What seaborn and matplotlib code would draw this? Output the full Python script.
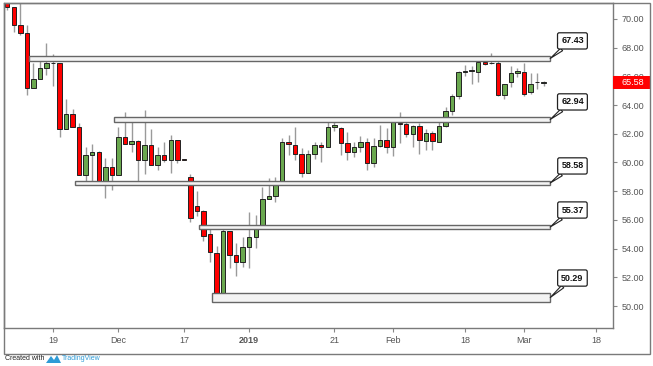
import numpy as np
import pandas as pd
import matplotlib
matplotlib.use("Agg")
import matplotlib.pyplot as plt
from matplotlib.patches import Rectangle, Polygon
import seaborn as sns

# ---------------- data ----------------
holidays = ["2018-12-25", "2019-01-01"]
all_dates = [d for d in pd.bdate_range("2018-11-08", "2019-03-22")
             if d.strftime("%Y-%m-%d") not in holidays]

opens = [71.15, 70.80, 69.60, 69.00, 65.20, 65.80, 66.60, 66.95, 66.90, 62.30,
         63.40, 62.50, 59.10, 60.50, 60.70, 58.60, 59.70, 59.10, 61.80, 61.30,
         61.50, 60.20, 61.20, 59.80, 60.50, 60.20, 61.60, 60.22, 59.00, 57.00,
         56.60, 55.00, 53.70, 50.90, 55.20, 53.55, 53.05, 54.10, 54.80, 55.60,
         57.45, 57.70, 58.60, 61.40, 61.20, 60.60, 59.30, 60.60, 61.20, 61.10,
         62.45, 62.40, 61.35, 60.75, 61.10, 61.40, 59.95, 61.15, 61.60, 61.05,
         62.75, 62.65, 61.95, 62.55, 61.50, 62.05, 61.45, 62.55, 63.60, 64.60,
         66.30, 66.40, 66.30, 67.00, 66.90, 66.90, 64.70, 65.60, 66.25, 66.30,
         64.90, 65.60, 65.55]
highs = [71.40, 70.85, 71.10, 69.60, 66.90, 67.35, 68.30, 67.55, 66.90, 64.40,
         63.70, 62.75, 61.10, 61.30, 60.80, 60.30, 60.30, 62.50, 63.50, 63.20,
         61.60, 63.65, 62.30, 61.10, 61.40, 61.90, 61.60, 60.25, 59.20, 58.00,
         56.70, 55.45, 54.20, 55.50, 55.25, 54.40, 54.80, 56.55, 56.35, 58.30,
         58.95, 59.00, 61.70, 61.90, 62.45, 61.00, 60.90, 61.45, 61.45, 62.80,
         62.95, 62.45, 62.15, 61.40, 61.85, 61.70, 61.70, 62.60, 62.40, 62.85,
         63.55, 62.90, 62.60, 62.75, 62.30, 62.20, 63.20, 63.90, 64.80, 66.35,
         66.80, 66.70, 67.30, 67.25, 67.60, 67.40, 65.50, 66.70, 66.60, 66.90,
         66.20, 66.20, 65.70]
lows = [70.60, 69.10, 68.90, 64.70, 65.20, 65.80, 66.10, 65.30, 61.80, 62.30,
        62.45, 59.10, 58.60, 58.60, 58.60, 57.50, 58.10, 59.10, 61.30, 60.70,
        58.45, 59.20, 59.80, 59.50, 60.00, 59.30, 59.95, 60.15, 55.85, 56.30,
        54.50, 53.10, 50.55, 50.35, 52.65, 52.10, 52.70, 52.65, 54.05, 55.50,
        57.45, 57.25, 58.50, 60.50, 60.20, 59.00, 59.25, 60.25, 60.05, 61.05,
        62.20, 60.50, 60.20, 60.40, 60.75, 59.50, 59.70, 61.05, 60.65, 60.45,
        61.35, 61.75, 61.05, 60.60, 60.90, 60.90, 61.40, 62.50, 63.30, 64.45,
        66.00, 65.50, 65.60, 66.80, 66.85, 64.60, 64.40, 65.25, 65.95, 64.60,
        64.80, 65.10, 65.30]
closes = [70.80, 69.60, 69.00, 65.20, 65.80, 66.60, 66.90, 66.90, 62.30, 63.40,
          62.50, 59.10, 60.50, 60.70, 58.60, 59.70, 59.10, 61.80, 61.30, 61.50,
          60.20, 61.20, 59.80, 60.50, 60.20, 61.60, 60.20, 60.20, 56.10, 56.60,
          54.90, 53.75, 50.75, 55.20, 53.55, 53.05, 54.10, 54.80, 55.60, 57.45,
          57.70, 58.65, 61.40, 61.30, 60.60, 59.30, 60.60, 61.20, 61.05, 62.45,
          62.60, 61.35, 60.75, 61.10, 61.40, 59.95, 61.15, 61.60, 61.05, 62.80,
          62.70, 61.95, 62.55, 61.55, 62.05, 61.50, 62.55, 63.60, 64.60, 66.30,
          66.40, 66.40, 67.00, 66.85, 66.90, 64.70, 65.50, 66.20, 66.35, 64.80,
          65.50, 65.60, 65.58]

level_values = [67.43, 62.94, 58.58, 55.37, 50.29]
level_tops = [67.42, 63.17, 58.71, 55.64, 50.90]
level_bottoms = [67.07, 62.82, 58.43, 55.37, 50.28]
level_starts = ["2018-11-13", "2018-11-30", "2018-11-22", "2018-12-19", "2018-12-21"]
level_end = "2019-03-07"

last_price = 65.58

tick_dates = ["2018-11-19", "2018-12-03", "2018-12-17", "2019-01-02", "2019-01-21",
              "2019-02-01", "2019-02-18", "2019-03-01", "2019-03-18"]
tick_labels = ["19", "Dec", "17", "2019", "21", "Feb", "18", "Mar", "18"]
y_ticks = [50, 52, 54, 56, 58, 60, 62, 64, 66, 68, 70]

# ---------------- style ----------------
sns.set_theme(style="white")
plt.rcParams["font.family"] = ["Liberation Sans", "DejaVu Sans"]

W, H = 653, 366
fig = plt.figure(figsize=(W / 100, H / 100), dpi=100)
ax = fig.add_axes([4 / W, 38 / H, 609 / W, 325 / H])

date_strs = [d.strftime("%Y-%m-%d") for d in all_dates]
pos = {s: i for i, s in enumerate(date_strs)}

o = np.array(opens); h = np.array(highs); l = np.array(lows); c = np.array(closes)
x = np.arange(len(o))
up = c >= o
green, red = "#6aa84f", "#ff0000"

ax.vlines(x, l, h, color="#9a9a9a", lw=1.0, zorder=1)
bottoms = np.minimum(o, c)
heights = np.maximum(np.abs(c - o), 0.02)
ax.bar(x[up], heights[up], bottom=bottoms[up], width=0.68, color=green,
       edgecolor="#222222", linewidth=0.7, zorder=2)
ax.bar(x[~up], heights[~up], bottom=bottoms[~up], width=0.68, color=red,
       edgecolor="#222222", linewidth=0.7, zorder=2)

# level boxes + callouts
end_x = pos[level_end]
for val, top, bot, start in zip(level_values, level_tops, level_bottoms, level_starts):
    sx = pos[start] + 0.3
    ax.add_patch(Rectangle((sx, bot), end_x - sx, top - bot, facecolor="#f3f3f3",
                           edgecolor="#666666", lw=1.0, zorder=3))
    ax.annotate(f"{val:.2f}", xy=(end_x, (top + bot) / 2), xytext=(86.4, top + 1.05),
                textcoords="data", ha="center", va="center", fontsize=6.5,
                fontweight="bold", color="#111111", annotation_clip=False,
                bbox=dict(boxstyle="round,pad=0.4,rounding_size=0.2", fc="white",
                          ec="#222222", lw=0.9),
                arrowprops=dict(arrowstyle="wedge,tail_width=0.35", fc="white",
                                ec="#222222", lw=0.8, shrinkA=0, shrinkB=0),
                zorder=5)

ax.set_xlim(-0.49, 92.6)
ax.set_ylim(48.47, 71.11)

ax.set_xticks([pos[d] for d in tick_dates])
ax.set_xticklabels(tick_labels)
for lab in ax.get_xticklabels():
    if lab.get_text() == "2019":
        lab.set_fontweight("bold")
        lab.set_color("#333333")
ax.tick_params(axis="x", length=3, width=0.8, color="#888888", labelsize=6.5,
               labelcolor="#555555", pad=3, bottom=True)

ax.yaxis.tick_right()
ax.set_yticks(y_ticks)
ax.set_yticklabels([f"{v:.2f}" for v in y_ticks])
ax.tick_params(axis="y", length=3, width=0.8, color="#888888", labelsize=6.5,
               labelcolor="#555555", pad=3, right=True)

for sp in ax.spines.values():
    sp.set_color("#7a7a7a")
    sp.set_linewidth(1.0)
    sp.set_visible(True)

# current price tag (covers the axis label area like the original)
ytr = ax.get_yaxis_transform()
tag_h = 0.95
ax.add_patch(Rectangle((1.0, last_price - tag_h / 2), 37 / 609, tag_h, transform=ytr,
                       facecolor="#ff0000", edgecolor="none", clip_on=False, zorder=10))
ax.text(1.0 + 20 / 609, last_price, f"{last_price:.2f}", transform=ytr,
        ha="center", va="center", fontsize=6.5, color="white", clip_on=False, zorder=11)

# outer frame
fig.add_artist(Rectangle((4 / W, 12 / H), 646 / W, 351 / H, transform=fig.transFigure,
                         fill=False, ec="#7a7a7a", lw=1.0))

fig.text(5 / W, 1 - 359 / H, "Created with", fontsize=5, color="#222222",
         ha="left", va="center")
fig.add_artist(Polygon([[46 / W, 1 - 363 / H], [51 / W, 1 - 356 / H], [54 / W, 1 - 360 / H],
                        [57 / W, 1 - 355 / H], [61 / W, 1 - 363 / H]],
                       closed=True, transform=fig.transFigure, fc="#2e9bd6", ec="none"))
fig.text(62 / W, 1 - 359 / H, "TradingView", fontsize=5, color="#2e9bd6",
         ha="left", va="center")

fig.savefig("out.png", dpi=100)
